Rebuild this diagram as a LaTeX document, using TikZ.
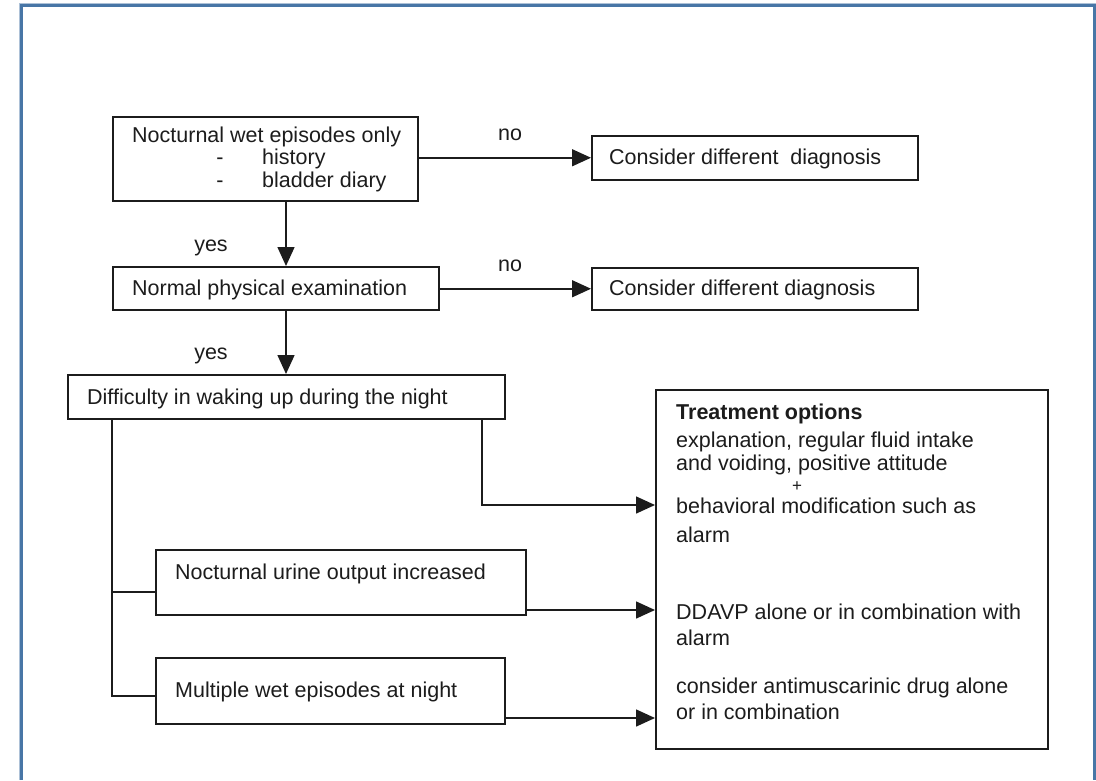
\documentclass[tikz,border=0pt]{standalone}
\usepackage{fontspec}
\setmainfont{Liberation Sans}
\usetikzlibrary{arrows.meta}
\definecolor{framecol}{RGB}{72,118,166}
\definecolor{ink}{RGB}{28,28,28}
\begin{document}
\begin{tikzpicture}[x=1pt,y=-1pt,
  box/.style={draw=ink, line width=1.5pt, inner sep=0pt, rectangle, anchor=north west},
  txt/.style={inner sep=0pt, font=\fontsize{21.5}{24.5}\selectfont, text=ink, anchor=base west},
  lbl/.style={inner sep=0pt, font=\fontsize{21.5}{24.5}\selectfont, text=ink, anchor=base},
  arr/.style={draw=ink, line width=1.5pt, -{Triangle[length=19pt,width=17pt]}},
  ln/.style={draw=ink, line width=1.5pt}]
\useasboundingbox (0,0) rectangle (1096,780);
\fill[white] (0,0) rectangle (1096,780);
% frame
\draw[framecol!45, line width=1pt] (19.5,780) -- (19.5,3.5) -- (1096,3.5);
\draw[framecol, line width=2.8pt] (21.5,780) -- (21.5,5.5) -- (1094.5,5.5) -- (1094.5,780);

% boxes
\node[box, minimum width=305pt, minimum height=84pt] (b1) at (112,116) {};
\node[box, minimum width=326pt, minimum height=44pt] (c1) at (591,135) {};
\node[box, minimum width=326pt, minimum height=43pt] (b2) at (112,266) {};
\node[box, minimum width=326pt, minimum height=42pt] (c2) at (591,267) {};
\node[box, minimum width=437pt, minimum height=44pt] (b3) at (67,374) {};
\node[box, minimum width=392pt, minimum height=359pt] (T) at (655,389) {};
\node[box, minimum width=370pt, minimum height=65pt] (b4) at (155,549) {};
\node[box, minimum width=349pt, minimum height=66pt] (b5) at (155,657) {};

% texts
\node[txt] (t1a) at (132,142) {Nocturnal wet episodes only};
\node[lbl] (t1d1) at (220,164) {-};
\node[txt] (t1b) at (262,164) {history};
\node[lbl] (t1d2) at (220,187) {-};
\node[txt] (t1c) at (262,187) {bladder diary};
\node[txt] (tc1) at (609,164) {Consider different\hspace{0.55em}diagnosis};
\node[txt] (t2) at (132,295) {Normal physical examination};
\node[txt] (tc2) at (609,295) {Consider different diagnosis};
\node[txt] (t3) at (87,404) {Difficulty in waking up during the night};
\node[txt] (t4) at (175,579) {Nocturnal urine output increased};
\node[txt] (t5) at (175,697) {Multiple wet episodes at night};

\node[txt, font=\fontsize{21.5}{24.5}\selectfont\bfseries] (tt0) at (676,419) {Treatment options};
\node[txt] (tt1) at (676,447) {explanation, regular fluid intake};
\node[txt] (tt2) at (676,470) {and voiding, positive attitude};
\node[lbl, font=\fontsize{17}{20}\selectfont] (tt3) at (797,491) {+};
\node[txt] (tt4) at (676,513) {behavioral modification such as};
\node[txt] (tt5) at (676,542) {alarm};
\node[txt] (tt6) at (676,619) {DDAVP alone or in combination with};
\node[txt] (tt7) at (676,645) {alarm};
\node[txt] (tt8) at (676,693) {consider antimuscarinic drug alone};
\node[txt] (tt9) at (676,719) {or in combination};

\node[lbl] (no1) at (510,140) {no};
\node[lbl] (no2) at (510,271) {no};
\node[lbl] (yes1) at (211,251) {yes};
\node[lbl] (yes2) at (211,359) {yes};

% connectors
\coordinate (vx) at (286,0);
\draw[arr] (vx |- b1.south) -- (vx |- b2.north);
\draw[arr] (vx |- b2.south) -- (vx |- b3.north);
\draw[arr] (b1.east |- c1.west) -- (c1.west);
\draw[arr] (b2.east |- c2.west) -- (c2.west);
\coordinate (rx) at (482,505);
\draw[arr] (rx |- b3.south) -- (rx) -- (rx -| T.west);
\coordinate (lx) at (112,0);
\coordinate (br1) at (112,592);
\coordinate (br2) at (112,696);
\draw[ln] (lx |- b3.south) -- (br2) -- (br2 -| b5.west);
\draw[ln] (br1) -- (br1 -| b4.west);
\coordinate (a2) at (0,610);
\coordinate (a3) at (0,718);
\draw[arr] (b4.east |- a2) -- (T.west |- a2);
\draw[arr] (b5.east |- a3) -- (T.west |- a3);
\end{tikzpicture}
\end{document}
